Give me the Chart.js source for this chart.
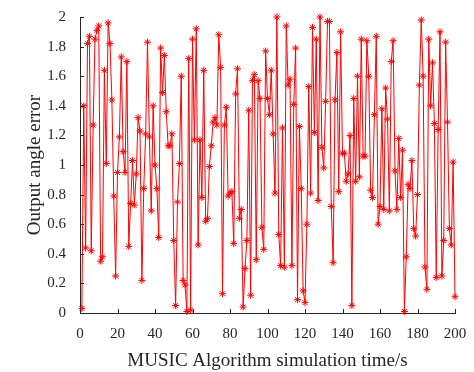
<!DOCTYPE html>
<html>
<head>
<meta charset="utf-8">
<script src="https://cdn.jsdelivr.net/npm/chart.js@4.4.1/dist/chart.umd.min.js"></script>
<style>
  html, body { margin: 0; padding: 0; background: #fff; }
  #wrap { width: 474px; height: 372px; }
</style>
</head>
<body>
<div id="wrap"><canvas id="grafico"></canvas></div>
<script>
// eixo x: tempo de simulação (s)
const tempos = [];
for (let i = 1; i <= 200; i++) tempos.push(i);

// erro do ângulo, ponto a ponto
const erros = [
  0.03, 1.40, 0.44, 1.82, 1.87, 0.42, 1.27, 1.85, 1.91, 1.94,
  0.35, 0.38, 1.64, 1.01, 1.96, 1.82, 1.44, 0.79, 0.25, 0.95,
  1.19, 1.73, 1.09, 0.95, 1.70, 0.45, 0.74, 1.03, 0.73, 0.94,
  1.32, 1.23, 0.22, 0.84, 1.21, 1.83, 1.19, 0.69, 1.40, 1.00,
  0.84, 0.51, 1.79, 1.49, 1.74, 1.36, 1.13, 1.13, 1.21, 0.49,
  0.05, 0.75, 1.01, 1.60, 0.22, 0.19, 0.01, 1.72, 0.02, 1.85,
  1.17, 1.92, 0.46, 1.17, 0.78, 1.64, 0.62, 0.64, 0.99, 1.13,
  1.29, 1.32, 1.27, 1.88, 1.66, 0.13, 1.27, 1.39, 0.79, 0.81,
  0.82, 0.47, 1.48, 1.65, 0.64, 0.70, 0.04, 0.30, 0.49, 1.37,
  0.12, 1.57, 1.61, 0.36, 1.57, 1.45, 0.58, 0.43, 1.77, 1.45,
  1.34, 1.64, 1.21, 0.81, 2.00, 0.53, 0.32, 1.25, 0.31, 1.94,
  1.54, 1.58, 0.32, 1.41, 1.79, 0.09, 1.26, 0.84, 0.15, 0.07,
  0.60, 1.53, 0.81, 1.93, 1.22, 1.85, 0.76, 2.00, 1.12, 0.98,
  1.43, 1.97, 1.97, 0.72, 0.34, 1.44, 1.76, 0.82, 1.90, 1.08,
  1.08, 0.89, 0.94, 1.20, 0.05, 1.45, 0.89, 1.60, 0.92, 1.85,
  1.06, 1.06, 1.84, 1.60, 0.83, 0.78, 1.34, 1.87, 0.60, 0.72,
  1.38, 0.70, 1.52, 1.31, 0.69, 1.70, 1.84, 0.96, 0.70, 1.18,
  0.78, 1.10, 0.01, 0.38, 0.87, 0.84, 1.03, 0.57, 0.52, 0.80,
  1.54, 1.98, 1.60, 0.31, 0.16, 1.85, 1.40, 1.69, 1.28, 0.24,
  1.24, 1.90, 0.25, 0.49, 1.83, 1.29, 0.57, 0.46, 1.02, 0.11
];

// limites dos eixos
const xLimites = [0, 200, 20];
const yLimites = [0, 2, 0.2];

const fonteSerif = 'Liberation Serif';

// plugin que desenha os ticks para dentro (estilo matlab)
const ticksDentro = {
  id: 'ticksDentro',
  afterDraw(chart) {
    const ctx = chart.ctx;
    const area = chart.chartArea;
    const sx = chart.scales.x, sy = chart.scales.y;
    ctx.save();
    ctx.strokeStyle = '#262626';
    ctx.lineWidth = 1;
    ctx.beginPath();
    sx.ticks.forEach(t => {
      const px = Math.round(sx.getPixelForValue(t.value)) + 0.5;
      ctx.moveTo(px, area.bottom);
      ctx.lineTo(px, area.bottom - 4);
    });
    sy.ticks.forEach(t => {
      const py = Math.round(sy.getPixelForValue(t.value)) + 0.5;
      ctx.moveTo(area.left, py);
      ctx.lineTo(area.left + 4, py);
    });
    ctx.stroke();
    ctx.restore();
  }
};

var dados = {
  datasets: [{
    data: tempos.map((t, i) => ({ x: t, y: erros[i] })),
    borderColor: '#ff0000',
    backgroundColor: '#ff0000',
    borderWidth: 1,
    pointStyle: 'star',
    pointRadius: 3.5,
    pointBorderWidth: 1,
    pointBorderColor: '#ff0000',
    tension: 0,
    clip: false
  }]
};

var opcoes = {
  responsive: true,
  maintainAspectRatio: false,
  animation: false,
  layout: { padding: { left: 0, top: 17, right: 19, bottom: 0 } },
  scales: {
    x: {
      type: 'linear',
      min: xLimites[0],
      max: xLimites[1],
      afterFit(s) { s.height = 59; },
      ticks: { stepSize: xLimites[2], color: '#262626', padding: 4, maxRotation: 0,
        font: { family: fonteSerif, size: 15 } },
      grid: { display: false },
      border: { display: true, color: '#262626', width: 1 },
      title: { display: true, text: 'MUSIC Algorithm simulation time/s', color: '#262626',
        font: { family: fonteSerif, size: 19 }, padding: { top: 10, bottom: 0 } }
    },
    y: {
      min: yLimites[0],
      max: yLimites[1],
      afterFit(s) { s.width = 80; },
      ticks: { stepSize: yLimites[2], color: '#262626', padding: 6,
        font: { family: fonteSerif, size: 15 },
        callback: v => String(Number(v.toFixed(1))) }, // 2, 1.8 ... sem o ".0"
      grid: { display: false },
      border: { display: true, color: '#262626', width: 1 },
      title: { display: true, text: 'Output angle error', color: '#262626',
        font: { family: fonteSerif, size: 19 }, padding: { top: 24, bottom: 0 } }
    }
  },
  plugins: {
    legend: { display: false },
    tooltip: { enabled: false }
  }
};

// criando o gráfico
const grafico = new Chart(document.getElementById('grafico'), {
  type: 'line',
  data: dados,
  options: opcoes,
  plugins: [ticksDentro]
});
</script>
</body>
</html>
